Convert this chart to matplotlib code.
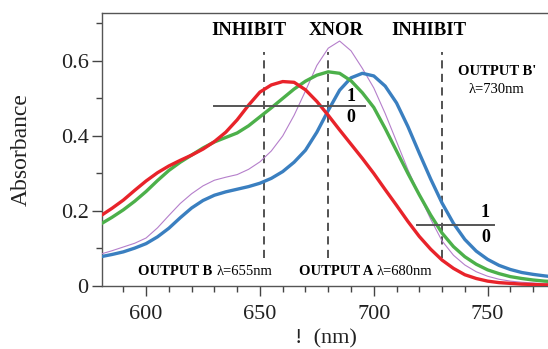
import matplotlib
matplotlib.use("Agg")
import matplotlib.pyplot as plt
from matplotlib.ticker import MultipleLocator

plt.rcParams['font.family'] = ['Liberation Serif', 'DejaVu Serif']

wavelength = [580, 585, 590, 595, 600, 605, 610, 615, 620, 625, 630, 635, 640, 645,
              650, 655, 660, 665, 670, 675, 680, 685, 690, 695, 700, 705, 710, 715,
              720, 725, 730, 735, 740, 745, 750, 755, 760, 765, 770, 775, 778]

red = [0.187, 0.207, 0.229, 0.255, 0.280, 0.302, 0.320, 0.335, 0.349, 0.365, 0.385, 0.410,
       0.443, 0.482, 0.517, 0.536, 0.545, 0.543, 0.523, 0.492, 0.455, 0.416, 0.378, 0.340,
       0.300, 0.257, 0.215, 0.172, 0.132, 0.098, 0.069, 0.047, 0.030, 0.020, 0.013, 0.009,
       0.007, 0.005, 0.004, 0.003, 0.003]

green = [0.165, 0.183, 0.203, 0.226, 0.252, 0.281, 0.308, 0.330, 0.349, 0.368, 0.384, 0.396,
         0.408, 0.427, 0.451, 0.475, 0.500, 0.525, 0.546, 0.562, 0.571, 0.567, 0.547, 0.515,
         0.476, 0.420, 0.360, 0.300, 0.243, 0.189, 0.141, 0.105, 0.078, 0.058, 0.043, 0.033,
         0.025, 0.020, 0.016, 0.013, 0.012]

blue = [0.078, 0.084, 0.091, 0.101, 0.113, 0.131, 0.154, 0.182, 0.208, 0.228, 0.242, 0.251,
        0.258, 0.265, 0.274, 0.287, 0.305, 0.330, 0.362, 0.410, 0.468, 0.522, 0.555, 0.567,
        0.560, 0.533, 0.488, 0.425, 0.354, 0.285, 0.221, 0.167, 0.124, 0.093, 0.071, 0.055,
        0.044, 0.036, 0.031, 0.027, 0.025]

purple = [0.085, 0.094, 0.104, 0.114, 0.128, 0.155, 0.188, 0.220, 0.246, 0.267, 0.282, 0.290,
          0.297, 0.311, 0.331, 0.360, 0.400, 0.455, 0.520, 0.588, 0.634, 0.653, 0.627, 0.580,
          0.528, 0.460, 0.385, 0.310, 0.243, 0.178, 0.120, 0.082, 0.056, 0.038, 0.026, 0.018,
          0.013, 0.010, 0.008, 0.006, 0.006]

gate_labels = ["INHIBIT", "XNOR", "INHIBIT"]
gate_x = [645, 683.3, 724]
dashed_x = [652, 680, 730]
thresholds = [(630, 696, 0.48), (719, 753, 0.163)]

fig = plt.figure(figsize=(5.48, 3.49), dpi=100)
ax = fig.add_axes([0.186, 0.1805, 0.816, 0.7825])

ax.plot(wavelength, purple, color='#b57fcb', lw=0.8, zorder=3)
ax.plot(wavelength, blue, color='#3a7fc0', lw=2.4, zorder=4, solid_joinstyle='round')
ax.plot(wavelength, green, color='#4cb04a', lw=2.4, zorder=5, solid_joinstyle='round')
ax.plot(wavelength, red, color='#e8232a', lw=2.4, zorder=6, solid_joinstyle='round')

for xv in dashed_x:
    ax.plot([xv, xv], [0.075, 0.624], color='#444444', lw=1.3, ls=(0, (4.5, 3)), zorder=2)

for x0, x1, yv in thresholds:
    ax.plot([x0, x1], [yv, yv], color='#555555', lw=1.4, zorder=7)

ax.text(690, 0.505, "1", fontsize=13, fontweight='bold', ha='center', va='center', zorder=8)
ax.text(690, 0.450, "0", fontsize=13, fontweight='bold', ha='center', va='center', zorder=8)
ax.text(749, 0.195, "1", fontsize=13, fontweight='bold', ha='center', va='center', zorder=8)
ax.text(749, 0.130, "0", fontsize=13, fontweight='bold', ha='center', va='center', zorder=8)

for lab, xv in zip(gate_labels, gate_x):
    ax.text(xv, 0.680, lab, fontsize=13.5, fontweight='bold', ha='center', va='center')

ax.text(754, 0.571, "OUTPUT B'", fontsize=10.5, fontweight='bold', ha='center', va='center')
ax.text(754, 0.524, "λ=730nm", fontsize=10.5, ha='center', va='center')

ax.text(596.5, 0.038, "OUTPUT B", fontsize=10.5, fontweight='bold', ha='left', va='center')
ax.text(630.8, 0.038, "λ=655nm", fontsize=10.5, ha='left', va='center')
ax.text(667.0, 0.038, "OUTPUT A", fontsize=10.5, fontweight='bold', ha='left', va='center')
ax.text(701.3, 0.038, "λ=680nm", fontsize=10.5, ha='left', va='center')

ax.set_xlim(580.6, 777)
ax.set_ylim(0, 0.728)
ax.xaxis.set_major_locator(MultipleLocator(50))
ax.xaxis.set_minor_locator(MultipleLocator(10))
ax.set_yticks([0, 0.2, 0.4, 0.6])
ax.set_yticklabels(["0", "0.2", "0.4", "0.6"])
ax.yaxis.set_minor_locator(MultipleLocator(0.1))
ax.tick_params(which='major', direction='out', length=7, width=1, labelsize=16, colors='#444444',
               labelcolor='#222222', pad=2.5)
ax.tick_params(axis='x', which='major', pad=6.5)
ax.tick_params(which='minor', direction='out', length=4, width=1, colors='#444444')

for s in ['left', 'bottom', 'top']:
    ax.spines[s].set_color('#555555')
    ax.spines[s].set_linewidth(1.0)
ax.spines['right'].set_visible(False)

ax.set_ylabel("Absorbance", fontsize=17, color='#222222', labelpad=21)
ax.set_xlabel("!  (nm)", fontsize=16, color='#222222', labelpad=4)

fig.savefig("out.png", dpi=100)
